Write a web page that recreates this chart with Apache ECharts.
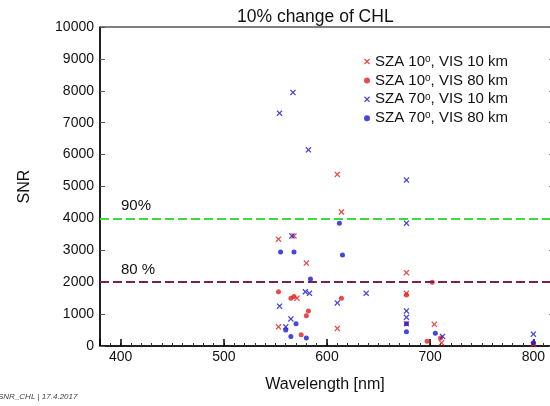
<!DOCTYPE html>
<html><head><meta charset="utf-8">
<script src="https://cdn.jsdelivr.net/npm/echarts@6/dist/echarts.min.js"></script>
<style>html,body{margin:0;padding:0;background:#fff}#c{width:550px;height:406px}</style>
</head><body><div id="c"></div>
<script>
// Data: [wavelength nm, SNR]
const seriesNames = ['SZA 10°, VIS 10 km', 'SZA 10°, VIS 80 km', 'SZA 70°, VIS 10 km', 'SZA 70°, VIS 80 km'];
const sza10vis10 = [[553,3350],[553,600],[568,3450],[580,2600],[571,1500],[610,5380],[614,4200],[610,550],[677,2300],[677,1650],[677,700],[704,680],[711,100],[800,50]];
const sza10vis80 = [[553,1700],[565,1500],[568,1550],[575,350],[580,950],[582,1100],[614,1500],[677,1600],[702,2000],[697,150],[710,250],[800,80]];
const sza70vis10 = [[554,7300],[567,7950],[582,6150],[554,1250],[566,3450],[565,850],[560,600],[579,1700],[583,1650],[610,1350],[638,1650],[677,5200],[677,3850],[677,1100],[677,900],[712,300],[800,370]];
const sza70vis80 = [[555,2950],[568,2950],[584,2100],[612,3850],[615,2850],[560,500],[565,300],[570,700],[580,250],[677,700],[677,450],[705,400],[800,100]];
const thresholds = [{value:4000, label:'90%'}, {value:2000, label:'80 %'}];
const yTicks = {min:0, max:10000, interval:1000};
const xRange = {min:380, max:820};

const RED = '#e0201c', BLUE = '#1818d6';
const CROSS = 'path://M0,1.5L1.5,0L5,3.5L8.5,0L10,1.5L6.5,5L10,8.5L8.5,10L5,6.5L1.5,10L0,8.5L3.5,5Z';
const font = 'Liberation Sans, Arial, sans-serif';

function mk(name, data, color, symbol, size) {
  return {name, type:'scatter', data, symbol, symbolSize:size, itemStyle:{color}, xAxisIndex:0, yAxisIndex:0, z:3};
}
const series = [
  mk(seriesNames[0], sza10vis10, RED, CROSS, 6),
  mk(seriesNames[1], sza10vis80, RED, 'circle', 5),
  mk(seriesNames[2], sza70vis10, BLUE, CROSS, 6),
  mk(seriesNames[3], sza70vis80, BLUE, 'circle', 5)
];
series[0].markLine = {
  silent:true, symbol:'none',
  data: thresholds.map((t,i)=>({yAxis:t.value, name:t.label,
    lineStyle:{color: i===0?'#3ddc3d':'#7a2150', type:[9,4], width:2},
    label:{show:true, formatter:t.label, position:'insideStartTop', distance:[21,5], color:'#111', fontSize:15, fontFamily:font}}))
};

const chart = echarts.init(document.getElementById('c'));
chart.setOption({
  animation:false,
  title:{text:'10% change of CHL', left:232, top:3, textStyle:{fontSize:17.5, fontWeight:'normal', color:'#111', fontFamily:font}},
  legend:{orient:'vertical', left:359, top:49, itemGap:3.9, itemWidth:6, itemHeight:6,
    data:seriesNames,
    formatter: n => n.replace('°', '{s|o}'),
    textStyle:{fontSize:15, color:'#111', fontFamily:font, rich:{s:{fontSize:10, verticalAlign:'top', fontFamily:font, color:'#111'}}}},
  grid:{left:100, top:27, width:454, height:319, outerBoundsMode:'none', containLabel:false, show:true, borderColor:'#000', borderWidth:1},
  xAxis:[
    {type:'value', min:xRange.min, max:xRange.max, interval:10,
     axisLine:{lineStyle:{color:'#000', width:1.5}}, axisTick:{inside:true, length:3, lineStyle:{color:'#333'}},
     axisLabel:{show:false}, splitLine:{show:false},
     name:'Wavelength [nm]', nameLocation:'middle', nameGap:31, nameTextStyle:{fontSize:16, color:'#111', fontFamily:font, padding:[0,4,0,0]}},
    {type:'value', min:xRange.min, max:xRange.max, position:'bottom',
     axisLine:{show:false}, axisTick:{inside:true, length:7, lineStyle:{color:'#000', width:1.5}},
     axisLabel:{margin:4, fontSize:14, color:'#111', fontFamily:font, formatter:v => (v%100===0? String(v):'')}, splitLine:{show:false}}
  ],
  yAxis:[
    {type:'value', min:yTicks.min, max:yTicks.max, interval:yTicks.interval,
     axisLine:{show:true, lineStyle:{color:'#000', width:1.5}}, axisTick:{show:true, inside:true, length:5, lineStyle:{color:'#555'}},
     axisLabel:{margin:6, fontSize:14, color:'#111', fontFamily:font, formatter:v => String(v)}, splitLine:{show:false},
     name:'SNR', nameLocation:'middle', nameGap:67, nameTextStyle:{fontSize:16, color:'#111', fontFamily:font}},
    {type:'value', min:yTicks.min, max:yTicks.max, interval:yTicks.interval, position:'right',
     axisLine:{show:true, lineStyle:{color:'#000'}}, axisTick:{show:true, inside:true, length:5, lineStyle:{color:'#777'}},
     axisLabel:{show:false}, splitLine:{show:false}}
  ],
  graphic:[{type:'text', left:-2, top:393, style:{text:'SNR_CHL | 17.4.2017', font:'italic 8px '+font, fill:'#444'}}],
  series
});
</script></body></html>
